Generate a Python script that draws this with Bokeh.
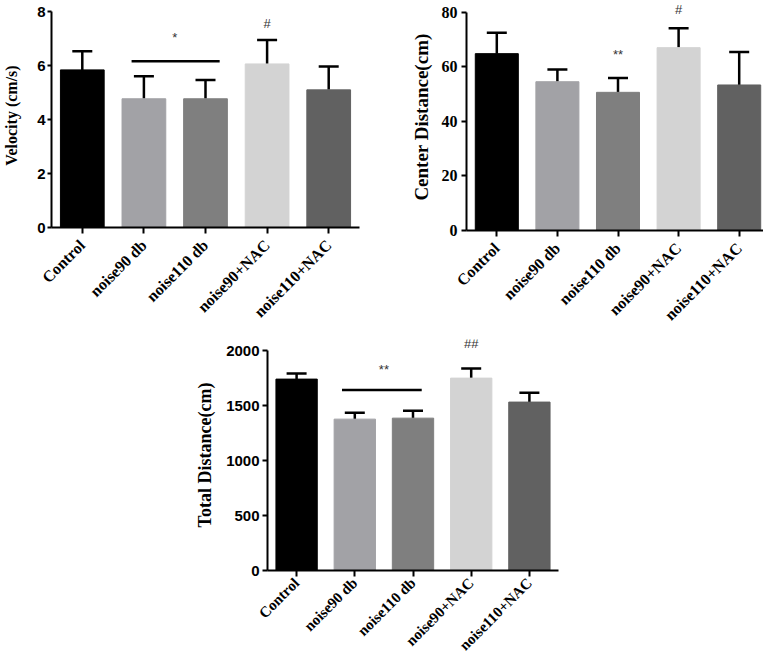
from math import pi
from bokeh.plotting import figure
from bokeh.models import (Range1d, FixedTicker, Whisker, TeeHead, ColumnDataSource,
                          Label, Spacer)
from bokeh.layouts import column, row
from bokeh.transform import dodge
from bokeh.embed import file_html
from bokeh.resources import INLINE

groups = ["Control", "noise90 db", "noise110 db", "noise90+NAC", "noise110+NAC"]
bar_colors = ["#000000", "#a2a2a6", "#7f7f7f", "#d3d3d3", "#616161"]

velocity_mean = [5.84, 4.77, 4.77, 6.06, 5.10]
velocity_upper = [6.53, 5.60, 5.47, 6.95, 5.97]
velocity_ticks = [0, 2, 4, 6, 8]

center_mean = [64.9, 54.6, 50.7, 67.1, 53.4]
center_upper = [72.6, 59.1, 56.0, 74.2, 65.5]
center_ticks = [0, 20, 40, 60, 80]

total_mean = [1740, 1376, 1385, 1749, 1531]
total_upper = [1791, 1434, 1452, 1836, 1615]
total_ticks = [0, 500, 1000, 1500, 2000]

# significance bars: (from group, to group, height)
velocity_bar = ("noise90 db", "noise110 db", 6.16)
total_bar = ("noise90 db", "noise110 db", 1640)
# significance marks: (groups it is centred over, text, height)
velocity_marks = [(["noise90 db", "noise110 db"], "*", 7.04), (["noise90+NAC"], "#", 7.55)]
center_marks = [(["noise110 db"], "**", 64.6), (["noise90+NAC"], "#", 81.0)]
total_marks = [(["noise90 db", "noise110 db"], "**", 1827), (["noise90+NAC"], "##", 2067)]

SERIF = "Liberation Serif"
SANS = "Liberation Sans"


def make_chart(means, uppers, ticks, ylabel, y_end, tick_font, tick_size, ylabel_size,
               fw, fh, mbl, mbr, mbt, mbb, ytick_out, ytick_standoff, ylabel_standoff,
               xlabel_standoff, xlabel_size, sig_bar=None, marks=(), bar_off=(-0.2, 0.23)):
    src = ColumnDataSource(dict(g=groups, m=means, u=uppers, c=bar_colors))
    p = figure(x_range=groups, y_range=Range1d(0, y_end), frame_width=fw, frame_height=fh,
               min_border_left=mbl, min_border_right=mbr, min_border_top=mbt,
               min_border_bottom=mbb, output_backend="svg", toolbar_location=None,
               outline_line_color=None, background_fill_color="white")
    p.vbar(x="g", top="m", width=0.71, fill_color="c", line_color="c", source=src)
    w = Whisker(base="g", lower="m", upper="u", source=src, dimension="height",
                line_width=2.5, line_color="black",
                upper_head=TeeHead(size=20, line_width=2.5, line_color="black"),
                lower_head=None)
    p.add_layout(w)
    if sig_bar is not None:
        bsrc = ColumnDataSource(dict(a=[sig_bar[0]], b=[sig_bar[1]], y=[sig_bar[2]]))
        p.segment(x0=dodge("a", bar_off[0], range=p.x_range), y0="y",
                  x1=dodge("b", bar_off[1], range=p.x_range), y1="y",
                  source=bsrc, line_width=2.5, line_color="black")
    for gs, txt, yv in marks:
        xs = [groups.index(g) + 0.5 for g in gs]
        p.add_layout(Label(x=sum(xs) / len(xs), y=yv, text=txt, text_align="center",
                           text_baseline="middle", text_font=SANS, text_font_size="13px",
                           text_color="#333333"))
    p.grid.grid_line_color = None
    for ax in (p.xaxis, p.yaxis):
        ax.axis_line_width = 2
        ax.axis_line_color = "black"
        ax.major_tick_line_width = 2
        ax.major_tick_line_color = "black"
        ax.major_tick_in = 0
        ax.minor_tick_in = 0
        ax.minor_tick_out = 0
    p.yaxis.ticker = FixedTicker(ticks=ticks)
    p.yaxis.bounds = (0, ticks[-1])
    p.yaxis.major_tick_out = ytick_out
    p.yaxis.major_label_standoff = ytick_standoff
    p.yaxis.major_label_text_font = tick_font
    p.yaxis.major_label_text_font_size = tick_size
    p.yaxis.major_label_text_font_style = "bold"
    p.yaxis.major_label_text_color = "black"
    p.yaxis.axis_label = ylabel
    p.yaxis.axis_label_text_font = SERIF
    p.yaxis.axis_label_text_font_size = ylabel_size
    p.yaxis.axis_label_text_font_style = "bold"
    p.yaxis.axis_label_text_color = "black"
    p.yaxis.axis_label_standoff = ylabel_standoff
    p.xaxis.major_tick_out = 6
    p.xaxis.major_label_orientation = pi / 4
    p.xaxis.major_label_standoff = xlabel_standoff
    p.xaxis.major_label_text_font = SERIF
    p.xaxis.major_label_text_font_size = xlabel_size
    p.xaxis.major_label_text_font_style = "bold"
    p.xaxis.major_label_text_color = "black"
    return p


p1 = make_chart(velocity_mean, velocity_upper, velocity_ticks, "Velocity (cm/s)", 8.3,
                SANS, "15px", "16px", 308, 224, 42, 48, 3, 101, 4, 2, 14, 9, "16px",
                sig_bar=velocity_bar, marks=velocity_marks, bar_off=(-0.2, 0.23))
p2 = make_chart(center_mean, center_upper, center_ticks, "Center Distance(cm)", 83.3,
                SERIF, "16px", "19px", 303, 227, 59, 3, 3, 98, 5, 4, 7, 9, "16px",
                marks=center_marks)
p3 = make_chart(total_mean, total_upper, total_ticks, "Total Distance(cm)", 2100,
                SANS, "15px", "18px", 291, 231, 64, 8, 7, 90, 5, 3, 8, 4, "15px",
                sig_bar=total_bar, marks=total_marks, bar_off=(-0.22, 0.15))

layout = column(row(p1, p2), row(Spacer(width=192, height=1), p3))

with open("out.html", "w") as f:
    f.write(file_html(layout, INLINE))
